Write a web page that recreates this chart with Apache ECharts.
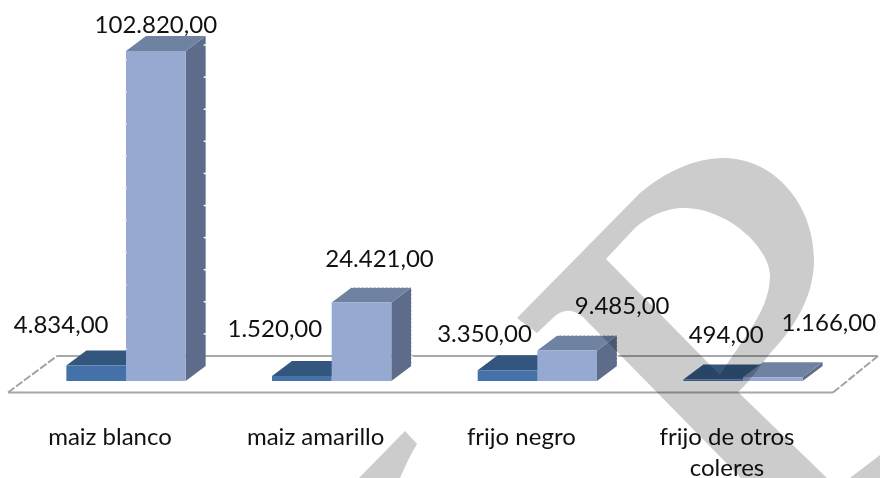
<!DOCTYPE html>
<html><head><meta charset="utf-8">
<style>html,body{margin:0;padding:0;background:#fff}#c{width:880px;height:478px}</style>
<script src="https://cdn.jsdelivr.net/npm/echarts@6/dist/echarts.min.js"></script>
</head><body><div id="c"></div>
<script>
var categories = ['maiz blanco', 'maiz amarillo', 'frijo negro', 'frijo de otros\ncoleres'];
var seriesA = [4834, 1520, 3350, 494];
var seriesB = [102820, 24421, 9485, 1166];
var labelNudgeA = [[-35, -40], [-27, -47], [-23, -36], [13, -44]];
var labelNudgeB = [[0, -26], [18, -43], [55, -44], [56, -54]];
var FONT = 'Lato';
var FS = 24;
var DX = 20, DY = 15;

function fmt(v) {
  var p = v.toFixed(2).split('.');
  return p[0].replace(/\B(?=(\d{3})+$)/g, '.') + ',' + p[1];
}
function makeRender(side, colors, nudge) {
  return function (params, api) {
    var i = api.value(0), v = api.value(1);
    var top = api.coord([i, v]), base = api.coord([i, 0]);
    var w = api.size([1, 0])[0] * 0.29;
    var x0 = side < 0 ? top[0] - w : top[0], x1 = x0 + w;
    var yT = top[1], yB = base[1];
    var kids = [
      {type: 'polygon', shape: {points: [[x1, yB], [x1 + DX, yB - DY], [x1 + DX, yT - DY], [x1, yT]]}, style: {fill: colors.side}},
      {type: 'polygon', shape: {points: [[x0, yT], [x1, yT], [x1 + DX, yT - DY], [x0 + DX, yT - DY]]}, style: {fill: colors.top}},
      {type: 'rect', shape: {x: x0, y: yT, width: w, height: yB - yT}, style: {fill: colors.front}}
    ];
    if (side > 0 && v > 5000 && v < 50000) {
      kids.push({type: 'line', shape: {x1: x0 + DX, y1: yT - DY - 0.5, x2: x1 + DX + 1, y2: yT - DY - 0.5},
        style: {stroke: '#fff', lineWidth: 1.5, lineDash: [2, 2]}});
      kids.push({type: 'line', shape: {x1: x1 + DX + 0.5, y1: yT - DY, x2: x1 + DX + 0.5, y2: yB - DY},
        style: {stroke: '#fff', lineWidth: 1.5, lineDash: [2, 2]}});
    }
    if (side > 0 && v >= 50000) {
      for (var g = 10000; g < v; g += 10000) {
        var gy = api.coord([i, g])[1];
        kids.push({type: 'line', shape: {x1: x1 + DX - 2, y1: gy - DY, x2: x1 + DX + 1, y2: gy - DY},
          style: {stroke: '#fff', lineWidth: 1.5}});
        kids.push({type: 'line', shape: {x1: x0 - 1, y1: gy, x2: x0 + 1, y2: gy},
          style: {stroke: '#dfe5f1', lineWidth: 1.5}});
      }
    }
    kids.push({type: 'text', z2: 20, style: {text: fmt(v), x: (x0 + x1) / 2 + nudge[i][0], y: yT + nudge[i][1],
      align: 'center', verticalAlign: 'middle', fontFamily: FONT, fontSize: FS, fill: '#111'}});
    return {type: 'group', children: kids};
  };
}
function rows(arr) { return arr.map(function (v, i) { return [i, v]; }); }

var R_PATH = 'M517 318 L640 193 C665 172 695 158 723 158 C775 158 814 205 814 260 C814 300 790 332 773 350 C760 365 750 382 738 392 L827 478 L741 478 L583 317 C575 310 565 308 555 316 L537 333 Z ' +
  'M606 259 L720 375 C745 335 770 310 770 275 C770 250 730 208 683 208 C665 208 645 218 633 230 Z ' +
  'M405 431 L417 444 C410 455 405 467 400 478 L359 478 Z ' +
  'M880 455 L850 478 L880 478 Z';
var floorLine = {stroke: '#a8a8a8', lineWidth: 2};
var floorSide = {stroke: '#a4a4a4', lineWidth: 2, lineDash: [8, 2]};

var chart = echarts.init(document.getElementById('c'), null, {renderer: 'canvas'});
chart.setOption({
  animation: false,
  backgroundColor: '#fff',
  grid: {left: 23.17, width: 822.67, top: 51, height: 330, outerBoundsMode: 'none', containLabel: false},
  xAxis: {type: 'category', data: categories,
    axisLine: {show: false}, axisTick: {show: false}, splitLine: {show: false},
    axisLabel: {interval: 0, margin: 41, padding: [0, 32, 0, 0], fontFamily: FONT, fontSize: FS, lineHeight: 31, color: '#111'}},
  yAxis: {type: 'value', min: 0, max: 102820, show: false},
  graphic: [
    {type: 'line', z: 0, silent: true, shape: {x1: 57, y1: 356, x2: 878, y2: 356}, style: floorLine},
    {type: 'line', z: 0, silent: true, shape: {x1: 8, y1: 392.5, x2: 833, y2: 392.5}, style: floorLine},
    {type: 'line', z: 0, silent: true, shape: {x1: 8, y1: 392.5, x2: 57, y2: 356}, style: floorSide},
    {type: 'line', z: 0, silent: true, shape: {x1: 833, y1: 392.5, x2: 878, y2: 356}, style: floorSide}
  ],
  series: [
    {type: 'custom', z: 2, clip: false, data: rows(seriesA), encode: {x: 0, y: 1},
      renderItem: makeRender(-1, {front: '#4471a8', top: '#33567f', side: '#33567f'}, labelNudgeA)},
    {type: 'custom', z: 3, clip: false, data: rows(seriesB), encode: {x: 0, y: 1},
      renderItem: makeRender(1, {front: '#95a9d1', top: '#6f82a2', side: '#5d6c8a'}, labelNudgeB)},
    {type: 'custom', z: 50, silent: true, clip: false, blendMode: 'multiply', data: [[0, 0]], encode: {x: 0, y: 1},
      renderItem: function () {
        return {type: 'path', shape: {pathData: R_PATH}, style: {fill: '#cccccc'}};
      }}
  ]
});
</script></body></html>
